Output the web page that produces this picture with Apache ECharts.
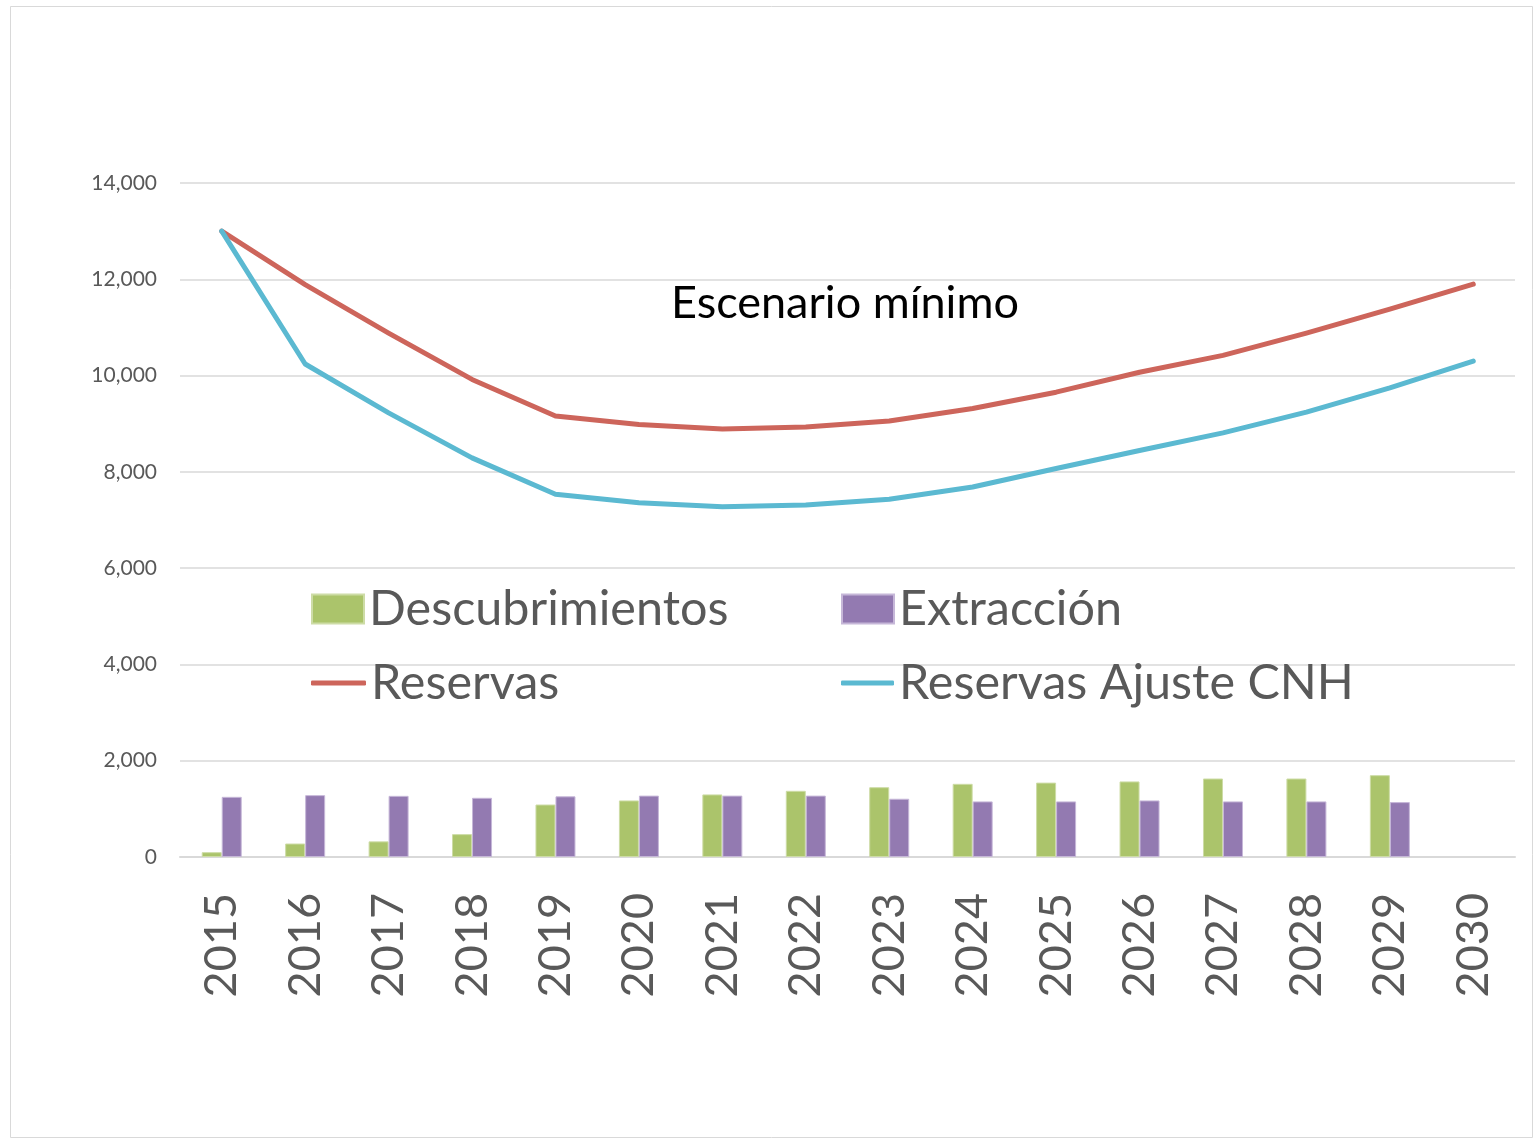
<!DOCTYPE html>
<html>
<head>
<meta charset="utf-8">
<style>
  html, body { margin: 0; padding: 0; background: #fff; }
  #chart { width: 1537px; height: 1141px; }
</style>
<script src="https://cdn.jsdelivr.net/npm/echarts@6/dist/echarts.min.js"></script>
</head>
<body>
<div id="chart"></div>
<script>
// datos
const years = ['2015', '2016', '2017', '2018', '2019', '2020', '2021', '2022',
  '2023', '2024', '2025', '2026', '2027', '2028', '2029', '2030']
const descubrimientos = [100, 280, 325, 475, 1090, 1175, 1300, 1375, 1450, 1520, 1545, 1570, 1630, 1630, 1700, null]
const extraccion = [1250, 1285, 1270, 1230, 1260, 1275, 1275, 1275, 1210, 1155, 1155, 1175, 1155, 1155, 1140, null]
const reservas = [13000, 11890, 10880, 9920, 9160, 8985, 8890, 8930, 9055, 9315, 9655, 10070, 10420, 10880, 11380, 11900]
const reservasAjuste = [13000, 10240, 9225, 8290, 7535, 7360, 7275, 7310, 7430, 7685, 8070, 8445, 8810, 9240, 9745, 10300]
const yTicks = [0, 2000, 4000, 6000, 8000, 10000, 12000, 14000]

const FONT = 'Lato'
const GREY = '#595959'

const chart = echarts.init(document.getElementById('chart'))

// leyenda: una por cada entrada para poder colocarlas como en el original
const legendText = { color: GREY, fontSize: 48.5, fontFamily: FONT, lineHeight: 54 }
const mkLegend = (name, left, top, icon, w, h) => ({
  data: [name],
  left: left,
  top: top,
  padding: 0,
  icon: icon,
  itemWidth: w,
  itemHeight: h,
  selectedMode: false,
  textStyle: legendText
})

const option = {
  backgroundColor: '#fff',
  animation: false,
  textStyle: { fontFamily: FONT },
  legend: [
    mkLegend('Descubrimientos', 311, 582, 'rect', 52, 29),
    mkLegend('Extracción', 841, 582, 'rect', 52, 29),
    mkLegend('Reservas', 311, 656, 'roundRect', 55, 5),
    mkLegend('Reservas Ajuste CNH', 841, 656, 'roundRect', 53, 5)
  ],
  grid: {
    left: 180,
    right: 22,
    top: 183,
    bottom: 284
  },
  xAxis: {
    type: 'category',
    data: years,
    boundaryGap: true,
    axisLine: { show: true, lineStyle: { color: '#d9d9d9', width: 2 } },
    axisTick: { show: false },
    axisLabel: {
      rotate: 90,
      margin: 36,
      color: GREY,
      fontSize: 45,
      fontFamily: FONT,
      interval: 0,
      padding: [10, 0, 0, 0]
    }
  },
  yAxis: {
    type: 'value',
    min: yTicks[0],
    max: yTicks[yTicks.length - 1],
    interval: 2000,
    axisLine: { show: false },
    axisTick: { show: false },
    splitLine: { lineStyle: { color: '#d9d9d9', width: 1.5 } },
    axisLabel: {
      margin: 23,
      color: GREY,
      fontSize: 21,
      fontFamily: FONT,
      formatter: v => v.toLocaleString('en-US')
    }
  },
  graphic: [
    {
      type: 'rect',
      shape: { x: 10.5, y: 6.5, width: 1522, height: 1131 },
      style: { fill: 'none', stroke: '#d9d9d9', lineWidth: 1 },
      z: -1,
      silent: true
    },
    {
      type: 'text',
      x: 845,
      y: 303,
      style: {
        text: 'Escenario mínimo',
        fill: '#000',
        fontSize: 45,
        fontFamily: FONT,
        align: 'center',
        verticalAlign: 'middle'
      },
      silent: true
    }
  ],
  series: [
    {
      name: 'Descubrimientos',
      type: 'bar',
      data: descubrimientos,
      barWidth: 20,
      barGap: '0%',
      itemStyle: { color: '#abc46b', borderColor: '#cddca6', borderWidth: 1 }
    },
    {
      name: 'Extracción',
      type: 'bar',
      data: extraccion,
      barWidth: 20,
      itemStyle: { color: '#937ab1', borderColor: '#c6b7d8', borderWidth: 1 }
    },
    {
      name: 'Reservas',
      type: 'line',
      data: reservas,
      showSymbol: false,
      lineStyle: { color: '#cd655b', width: 5, cap: 'round', join: 'round' },
      itemStyle: { color: '#cd655b' }
    },
    {
      name: 'Reservas Ajuste CNH',
      type: 'line',
      data: reservasAjuste,
      showSymbol: false,
      lineStyle: { color: '#5bb9d1', width: 5, cap: 'round', join: 'round' },
      itemStyle: { color: '#5bb9d1' }
    }
  ]
}

chart.setOption(option)

window.addEventListener('resize', () => chart.resize())
</script>
</body>
</html>
